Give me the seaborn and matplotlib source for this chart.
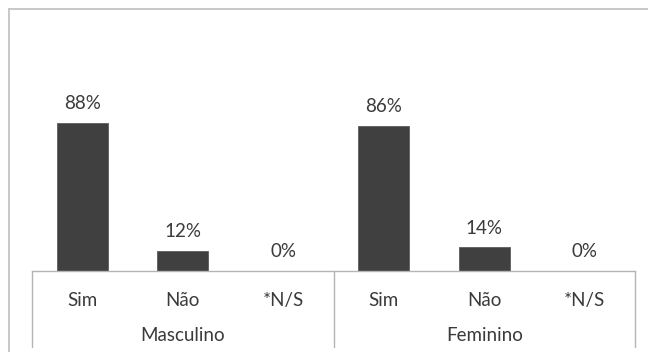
import matplotlib
matplotlib.use("Agg")
import matplotlib.pyplot as plt
from matplotlib.lines import Line2D
import matplotlib.transforms as mtransforms
import seaborn as sns
import pandas as pd

# Survey answers by gender (percent)
generos = ["Masculino", "Feminino"]
respostas = ["Sim", "Não", "*N/S"]
masculino = [88, 12, 0]
feminino = [86, 14, 0]

rows = []
for g, vals in zip(generos, [masculino, feminino]):
    for r, v in zip(respostas, vals):
        rows.append({"grupo": f"{g}|{r}", "genero": g, "resposta": r, "valor": v})
df = pd.DataFrame(rows)
ordem = list(df["grupo"])

sns.set_theme(style="white")
plt.rcParams["font.family"] = ["Lato", "DejaVu Sans"]

W, H = 648, 352
fig = plt.figure(figsize=(W / 100, H / 100), dpi=100)
ax = fig.add_axes([32 / W, (H - 271) / H, (635 - 32) / W, (271 - 8) / H])

bar_c = "#404040"
txt_c = "#3a3a3a"
line_c = "#b4b4b4"
fs = 13.5

sns.barplot(data=df, x="grupo", y="valor", order=ordem, color=bar_c,
            width=0.51, edgecolor="#666666", linewidth=0.7,
            saturation=1, ax=ax)

ax.set_xlim(-0.5, len(ordem) - 0.5)
ax.set_ylim(0, 156)
ax.set_xlabel("")
ax.set_ylabel("")
ax.set_yticks([])
for s in ["top", "left", "right"]:
    ax.spines[s].set_visible(False)
ax.spines["bottom"].set_color(line_c)
ax.spines["bottom"].set_linewidth(1.0)
ax.spines["bottom"].set_zorder(5)

ax.set_xticks(range(len(ordem)))
ax.set_xticklabels(list(df["resposta"]), fontsize=fs, color=txt_c)
ax.tick_params(axis="x", length=0, pad=15)

# value labels
for i, v in enumerate(df["valor"]):
    ax.annotate(f"{v}%", (i, v), xytext=(0, 10), textcoords="offset points",
                ha="center", va="baseline", fontsize=fs, color=txt_c)

# group labels and separators below the axis
tr = mtransforms.blended_transform_factory(ax.transData, ax.transAxes)
n = len(respostas)
for k, g in enumerate(generos):
    ax.text(k * n + (n - 1) / 2, -0.265, g, transform=tr, ha="center",
            va="baseline", fontsize=fs, color=txt_c)
for xs in [-0.5 + k * n for k in range(len(generos) + 1)]:
    ax.add_line(Line2D([xs, xs], [0, -0.29], transform=tr, color=line_c,
                       lw=1.0, clip_on=False))

# outer chart frame
fig.add_artist(Line2D([8.5 / W, 8.5 / W], [0, 1 - 8.5 / H], color="#c4c4c4",
                      lw=1.3, transform=fig.transFigure))
fig.add_artist(Line2D([8.5 / W, 1], [1 - 8.5 / H, 1 - 8.5 / H], color="#c4c4c4",
                      lw=1.3, transform=fig.transFigure))

fig.savefig("out.png", dpi=100, facecolor="white")
